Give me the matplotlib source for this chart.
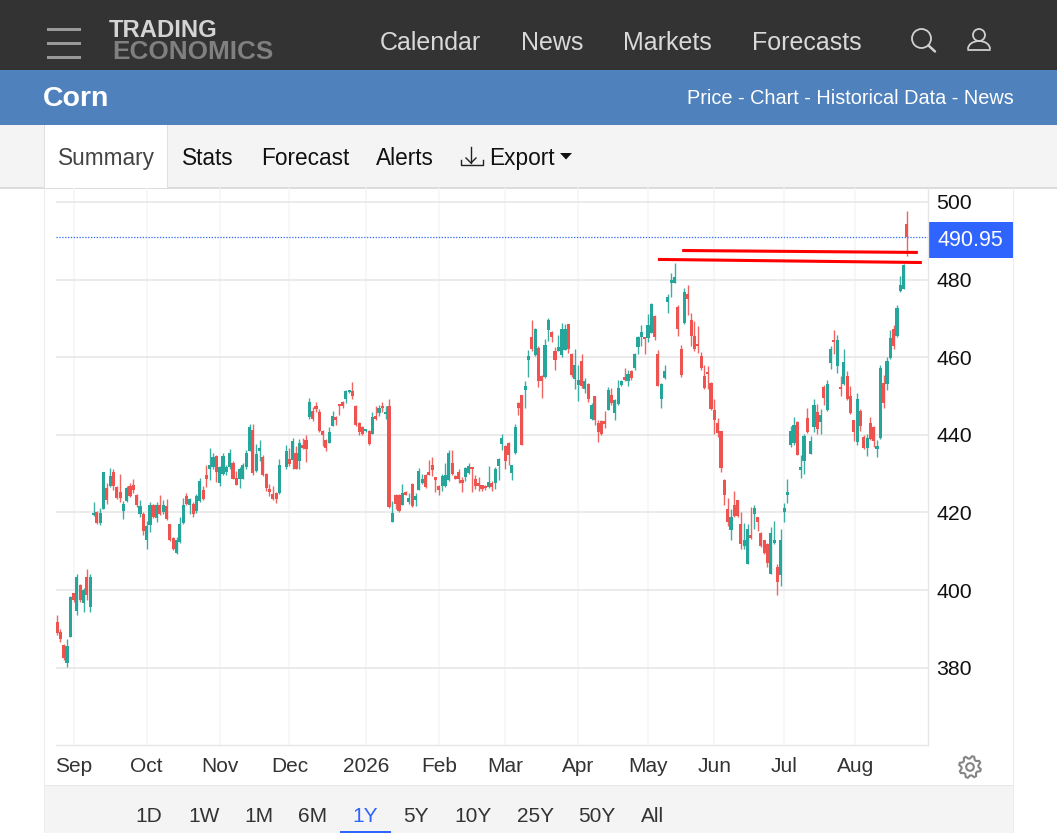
import numpy as np
import matplotlib
matplotlib.use("Agg")
import matplotlib.pyplot as plt
from matplotlib.patches import Rectangle, Circle, Polygon, Arc

plt.rcParams['font.family'] = ['Liberation Sans', 'DejaVu Sans']

nan = float('nan')

# Daily candles, one row = ten sessions
opens = [
    391.7, 389.1, 385.7, 381.3, 388, 399.2, 394.5, 401.4, 396.6, 403.3,
    395.5, 419.3, 420.2, 417.3, 421, 426.4, 426.8, 430.3, 426.6, 425.3,
    420.3, 422.9, 426.8, 427.1, 424.5, 419.7, 419.5, 412.8, 416.7, 421.9,
    418.6, 421.9, 420.2, 421.6, 417, 413.4, 409.6, 412.3, 417.2, 424.2,
    421.9, 422.1, 420.3, 422.9, 425.7, 429.6, 431.1, 431.6, 434.6, 427.7,
    429.8, 430.3, 431.6, 432.8, 428.8, 428.7, 428.7, 431.6, 435.9, 441.2,
    430.7, 435.9, 434.4, 429.8, 426, 424.7, 425.1, 424.9, nan, 431.8,
    433.7, 433.5, 435.4, 433.3, 437.3, 438.7, 444.5, 446.2, 447.3, 445.8,
    440.9, 438.6, 438, 442.3, 444.5, 447.5, 448.5, 449.2, 451, 451.2,
    447.5, 443, 441.9, 440.9, 441, 440.2, 444.9, 445.6, 447.1, 445.3,
    447.3, 417.6, 424.5, 424.5, 421.9, 425.3, 422.7, 427.2, 423.2, 425.9,
    427.5, 429.6, 430.3, 432.1, 429.2, 426.8, 426.8, 426.8, 428.4, 432.8,
    429.4, 430.3, 428.3, 429, 430.1, 431.4, 428.7, 427.7, 427, 426.8,
    426.6, 427.5, 427.7, 432, 437.6, 437.2, 438, 430.1, 435.2, 448.2,
    450.2, 451.6, 459.3, 465.3, 460.6, 462.3, 455.2, 454.8, 467, 466.4,
    461.5, 461.6, 460.5, 461.9, 468.5, 460.9, 454.4, 452.9, 458.9, 451.9,
    453.2, 444.2, 449.9, 443.1, 443.5, 443.1, 446.5, 450.3, 445.5, 448,
    452.9, 455, 453.8, 456.5, 457.2, 462.6, 465.1, 464.8, 465, 466.3,
    470.6, 460.9, 449.1, 454.7, 474.1, 479.1, 479.1, 473, 462.1, 468.7,
    476.2, 469.7, 465.5, 463.2, 460.3, 455.1, 456, 453.4, 446.5, 443.1,
    441.1, 428.3, 420.9, 415.4, 422, 423.1, 417.1, 411.3, 406.8, 414.1,
    419.7, 418.8, 414.8, 413, 411.8, 404.2, 412, 405.9, 403.9, 420.1,
    424.5, 437.5, 437.8, 443.3, 430.8, 433.2, 444.3, 435.1, 441.9, 446,
    443.3, 452.2, 446.5, 458.4, 464.1, 457.7, 451.8, 453, 455.1, 450.1,
    443.7, 438.2, 446.1, 439.5, 436.5, 443.1, 442, 436.4, 439.2, 453.4,
    453, 459.8, 467.3, 465.4, 477.1, 477.6, 494.3,
]
closes = [
    388.9, 387.3, 382.4, 385.6, 398.2, 397.3, 403.4, 397.5, 400.1, 398.8,
    403.4, 419.9, 417.2, 419.9, 430.3, 423.2, 429.4, 426.8, 423.6, 423.8,
    422.1, 426.4, 424.2, 425.7, 421.8, 421.6, 415.2, 416.5, 421.9, 418.9,
    421.9, 419.7, 421.9, 418.2, 412.8, 410.6, 413, 417, 421.9, 422.1,
    423.4, 419.7, 424.2, 428.1, 423.4, 428.7, 432.2, 434.3, 430.3, 431.8,
    434.6, 431.8, 435.4, 428.7, 427.1, 431.3, 432.2, 435.4, 441.9, 430.1,
    435, 436.7, 429.6, 426.4, 425.3, 423.5, 423.5, 432.2, nan, 435.8,
    432.4, 438.3, 431.3, 437.8, 436.5, 436.3, 448.5, 444.1, 446.6, 440.9,
    439.9, 436.6, 440.8, 444.9, 443.8, 447.3, 447.3, 451.4, 451.1, 450.1,
    442.5, 440.6, 440.2, 441.5, 437.6, 444.7, 444.1, 446.9, 446.8, 445.9,
    421.5, 419.9, 422.1, 420.3, 424.9, 424.6, 423.8, 421.6, 424.2, 430.7,
    428.5, 426.6, 429.7, 430.9, 428.4, 425.8, 429.4, 429.6, 435.4, 429.8,
    428.7, 428.5, 427.7, 431.4, 432, 431.2, 426.8, 426.8, 426, 426.3,
    427.9, 426.5, 431.2, 433.7, 439.1, 433.3, 434.8, 432.2, 441.9, 446.9,
    437.5, 452.6, 460.3, 462.1, 467.3, 453.8, 453.8, 463.2, 469.7, 465.1,
    459.3, 462.6, 467.2, 467.2, 462.1, 455.5, 457.9, 454.2, 452.5, 453.8,
    449.1, 447.8, 443.9, 440.7, 440.1, 442.9, 451.5, 448.2, 448.9, 452,
    453.9, 454, 455.6, 454.6, 460.8, 465.3, 466.4, 464.6, 468.3, 473.7,
    465.1, 452.6, 453, 456.5, 475.4, 480, 480.7, 467.3, 455.3, 476.8,
    475.1, 465.5, 462.1, 462.9, 457.3, 452.1, 455.7, 446.7, 443.9, 440.5,
    431.5, 424.4, 417.5, 418.9, 419.1, 419.1, 411.8, 413, 415.6, 413.5,
    421.2, 417.6, 411.3, 409.6, 407, 414.8, 413, 402, 413, 421.2,
    425.3, 441.1, 442.4, 434.8, 431.7, 439.8, 440.7, 438.5, 447.6, 441.4,
    445, 449.4, 453, 462.2, 463.9, 464.5, 451.7, 458.7, 449.3, 445.5,
    440.8, 449.3, 442.2, 436.6, 439.2, 439, 438.4, 436.7, 457.3, 448.1,
    459.1, 465, 463, 472.8, 478.5, 483.7, 490.95,
]
highs = [
    393.6, 389.9, 386, 387.3, 398.4, 399.3, 404, 401.6, 400.5, 405.4,
    404, 422.8, 420.4, 421.2, 430.3, 427.7, 431.4, 431.3, 426.8, 430,
    422.9, 426.8, 427.5, 428.5, 424.7, 423.1, 420.2, 417.8, 422.8, 422.1,
    422.8, 424.5, 423.2, 423.5, 417.1, 413.7, 413.7, 418.9, 423.8, 425.1,
    423.8, 422.8, 424.7, 428.8, 426.8, 432.2, 436.5, 435.4, 434.7, 432,
    435.4, 432.2, 436.3, 433.3, 430.7, 431.6, 432.8, 436.1, 442.9, 442.9,
    437.6, 438.6, 434.7, 430.1, 427.2, 426.8, 425.3, 433.7, nan, 437.3,
    436.7, 439.3, 437.2, 438.9, 439.3, 440, 449.5, 447.1, 448.4, 446.6,
    441.3, 438.9, 441.9, 446.2, 444.9, 447.7, 448.7, 451.6, 451.2, 453.5,
    447.7, 443.2, 442.3, 441.6, 441.2, 445.8, 447.3, 447.7, 448.4, 447.5,
    449.2, 422.9, 424.7, 424.7, 427.4, 425.5, 425.1, 427.5, 424.9, 431.4,
    429.8, 430, 433.5, 434.3, 429.2, 427, 429.8, 432.8, 436.1, 436.1,
    429.6, 431.1, 429, 431.6, 432.8, 431.4, 429.6, 429, 427, 427,
    432, 428, 431.6, 433.9, 440.2, 437.3, 438.2, 432.2, 442.7, 448.4,
    450.3, 453.9, 461.9, 469.7, 467.4, 462.9, 455.5, 464.6, 470, 466.8,
    462.7, 465.7, 468.7, 468.5, 468.6, 461, 462.1, 458, 460.8, 454.6,
    453.3, 448.2, 450.1, 443.9, 443.7, 446.1, 452.3, 452.1, 449.1, 454,
    454, 457.2, 456.8, 456.8, 461, 465.5, 468.3, 465.1, 471.1, 474,
    470.9, 461.9, 453.3, 457.9, 476.4, 481.8, 484.4, 473.4, 463.2, 477.9,
    478.7, 471.3, 469.4, 468, 461.3, 457.9, 457.7, 453.5, 449.3, 444.4,
    441.1, 428.5, 423.8, 420.9, 425.5, 423.3, 420.1, 417.3, 416.9, 421.4,
    422, 418.9, 414.9, 413, 412, 416.3, 417.8, 406.6, 415.6, 422.5,
    428.5, 442.2, 444.6, 443.5, 434.9, 440.1, 446.8, 439.7, 449.3, 448,
    446.7, 452.8, 454.1, 463, 467.1, 465.6, 455.1, 462.2, 456.4, 452.5,
    443.9, 450.8, 446.7, 439.9, 440.3, 444.6, 442.2, 438.6, 457.9, 455.5,
    460, 467.1, 468.2, 473.4, 481, 483.9, 497.8,
]
lows = [
    388.4, 386.7, 382, 380.1, 387.9, 397, 393.6, 396.8, 394.3, 397.5,
    394.3, 419.2, 416.9, 416.7, 420.9, 422.1, 426.6, 425.8, 423.4, 422.8,
    418.4, 422.8, 424, 425.1, 421.5, 418.9, 414.1, 410.6, 414.9, 418.6,
    417.5, 419.3, 419.7, 418, 412.6, 410.4, 409.4, 412.2, 417, 421.8,
    419.5, 418.9, 419.9, 422.8, 423.2, 426.6, 428.4, 431.1, 427.8, 426.8,
    429.7, 429.7, 431.1, 428.5, 427, 426.4, 428.5, 431.3, 435.7, 429.7,
    430.5, 433.3, 429.4, 425.5, 424.2, 423.2, 422.5, 424.7, nan, 431.1,
    432, 431.1, 431.1, 431.1, 436.3, 433, 444.1, 443.6, 445.8, 440.6,
    437, 435.9, 437.8, 442.2, 442.5, 445.1, 446.8, 448.2, 450.9, 449.2,
    442.3, 440, 439.9, 440.8, 437.3, 440.1, 443.9, 444.9, 445.8, 444.2,
    421.2, 417.5, 420.9, 420.2, 421.8, 424.5, 422.2, 421.5, 421.6, 425.8,
    427.2, 426.4, 429.6, 429.4, 425.3, 424.4, 425.5, 426.6, 428.2, 429.6,
    428.5, 427.7, 425.3, 428.1, 429.8, 425.3, 426, 425.5, 425.5, 425.8,
    426.4, 425.6, 426, 428.4, 436.1, 431.2, 432.3, 428.3, 435, 445,
    437.4, 446.9, 455, 461.7, 460.2, 452.3, 449.5, 454.7, 464.2, 464,
    456.6, 461.5, 460, 461.8, 461, 455, 451.8, 448.6, 452.1, 450.8,
    448.4, 443.9, 442.5, 438.2, 439.9, 441.8, 446.3, 447.6, 443.7, 447.8,
    452.6, 453.8, 452.6, 454, 456.6, 460.9, 462.9, 460.9, 463.8, 466.2,
    464.4, 452.5, 446.9, 454.4, 471.5, 475.4, 479, 465.5, 455, 468.5,
    470.9, 462.9, 461.7, 461, 456.8, 451.9, 451.9, 446.5, 440.1, 439.5,
    430.4, 421.8, 416.5, 413, 418.9, 418.9, 410.5, 410.6, 406.6, 413.2,
    415.6, 415.2, 411.2, 409.4, 406, 404, 411.8, 398.7, 401, 417.5,
    422.5, 436.8, 437.5, 434.7, 428.9, 430, 440.5, 435, 440.7, 440.3,
    440.1, 447.6, 446.1, 457, 460.9, 455.8, 450.1, 452.8, 448.9, 445.4,
    438.4, 437.5, 441.1, 436.4, 434.5, 438.6, 436.8, 434.2, 439, 447,
    451.5, 459.6, 462.1, 465.2, 476.7, 477.5, 486,
]
last_price = 490.95

y_ticks = [380, 400, 420, 440, 460, 480, 500]
month_pos = [5, 27, 49, 70, 93, 115, 135, 157, 178, 198, 219, 240.4]
month_labels = ['Sep', 'Oct', 'Nov', 'Dec', '2026', 'Feb', 'Mar', 'Apr', 'May', 'Jun', 'Jul', 'Aug']

# hand drawn resistance lines: session, price
line_a_x = [188.3, 259.3]
line_a_y = [487.5, 487.0]
line_b_x = [181.0, 260.5]
line_b_y = [485.2, 484.4]

nav_items = [('Calendar', 380), ('News', 521), ('Markets', 623), ('Forecasts', 752)]
tab_items = [('Stats', 182), ('Forecast', 261), ('Alerts', 376), ('Export', 489)]
ranges = [('1D', 149), ('1W', 204), ('1M', 259), ('6M', 313), ('1Y', 365),
          ('5Y', 416), ('10Y', 473), ('25Y', 535), ('50Y', 597), ('All', 653)]

W, H = 1057, 833
fig = plt.figure(figsize=(W / 100, H / 100), dpi=100, facecolor='white')

# page furniture, drawn in pixels
page = fig.add_axes([0, 0, 1, 1], zorder=0)
page.set_xlim(0, W)
page.set_ylim(H, 0)
page.axis('off')


def box(x0, y0, x1, y1, color, **kw):
    page.add_patch(Rectangle((x0, y0), x1 - x0, y1 - y0, facecolor=color, edgecolor='none', **kw))


box(0, 0, W, 70, '#333333')
box(0, 70, W, 125, '#4f81bd')
box(0, 125, W, 187, '#f4f4f4')
box(0, 187, W, 188.5, '#dcdcdc')
box(44, 125, 167.5, 188, 'white')
box(43.5, 125, 44.5, 188, '#e0e0e0')
box(167, 125, 168, 188, '#e0e0e0')
box(44, 786, 1013, H, '#f4f4f4')
box(43.5, 188, 44.5, H, '#ececec')
box(1012.5, 188, 1013.5, H, '#ececec')
box(44, 785, 1013, 786, '#e8e8e8')

# hamburger and logo
for yy in (29, 43, 57):
    box(47, yy - 1.5, 81, yy + 1.5, '#999999')
page.text(109, 37, 'TRADING', fontsize=17.2, fontweight='bold', color='#d4d4d4', va='baseline', ha='left')
page.text(112.5, 59, 'ECONOMICS', fontsize=18.8, fontweight='bold', color='#808080', va='baseline', ha='left')

for name, xx in nav_items:
    page.text(xx, 43, name, fontsize=18, color='#d9d9d9', va='center', ha='left')

# search and user icons
page.add_patch(Circle((921.5, 38.5), 9.5, fill=False, edgecolor='#d0d0d0', lw=1.3))
page.plot([928.5, 935], [45.5, 51.5], color='#d0d0d0', lw=1.8, solid_capstyle='round')
page.add_patch(Circle((979, 35), 6, fill=False, edgecolor='#d0d0d0', lw=1.3))
page.add_patch(Arc((979, 49), 22, 16, theta1=180, theta2=360, edgecolor='#d0d0d0', lw=1.3))
page.plot([968, 990], [50, 50], color='#d0d0d0', lw=1.3, solid_capstyle='round')

page.text(43, 99, 'Corn', fontsize=20.5, fontweight='bold', color='white', va='center', ha='left')
page.text(1014, 98.5, 'Price - Chart - Historical Data - News', fontsize=14.3, color='white', va='center', ha='right')

page.text(58, 158, 'Summary', fontsize=16.3, color='#444444', va='center', ha='left')
for name, xx in tab_items:
    page.text(xx, 158, name, fontsize=16.3, color='#111111', va='center', ha='left')

# export arrow and caret
page.plot([471, 471], [147, 163], color='#222222', lw=1.0)
page.plot([466, 471, 476], [158, 163, 158], color='#222222', lw=1.0)
page.plot([461, 461, 483, 483], [160, 165, 165, 160], color='#222222', lw=1.0)
page.add_patch(Polygon([[560, 153], [572, 153], [566, 159.5]], closed=True, facecolor='#111111', edgecolor='none'))

# price tag
box(928, 222, 1013, 258, '#2f64ff')
page.text(970.5, 240.5, f'{last_price:.2f}', fontsize=15.5, color='white', va='center', ha='center')

# settings gear
angles = np.linspace(0, 2 * np.pi, 8 * 4, endpoint=False) + np.pi / 16
radii = np.tile([11, 11, 8.5, 8.5], 8)
page.add_patch(Polygon(np.c_[970 + radii * np.cos(angles), 767 + radii * np.sin(angles)], closed=True,
                       fill=False, edgecolor='#858585', lw=1.5))
page.add_patch(Circle((970, 767), 3.8, fill=False, edgecolor='#858585', lw=1.5))

for name, xx in ranges:
    col = '#2f64ff' if name == '1Y' else '#333333'
    page.text(xx, 816.5, name, fontsize=15, color=col, va='center', ha='center')
box(340, 830.5, 391, 833, '#2f64ff')

# the chart itself
ax_l, ax_r, ax_t, ax_b = 56, 928, 188, 745
ax = fig.add_axes([ax_l / W, 1 - ax_b / H, (ax_r - ax_l) / W, (ax_b - ax_t) / H], zorder=1)
ax.patch.set_alpha(0)
ax.set_xlim((ax_l - 57) / 3.32, (ax_r - 57) / 3.32)
ax.set_ylim(500 - (ax_b - 202) / 3.88, 500 - (ax_t - 202) / 3.88)

ax.set_axisbelow(True)
ax.yaxis.tick_right()
ax.set_yticks(y_ticks)
ax.set_xticks(month_pos)
ax.set_xticklabels(month_labels)
ax.tick_params(axis='y', length=0, pad=6, labelsize=15.3, labelcolor='#111111')
ax.tick_params(axis='x', length=0, pad=9, labelsize=15, labelcolor='#333333')
ax.grid(axis='y', color='#e6e6e6', lw=1.1)
ax.grid(axis='x', color='#f2f5f8', lw=1.1)
for side in ('top', 'left'):
    ax.spines[side].set_visible(False)
for side in ('bottom', 'right'):
    ax.spines[side].set_color('#e6e6e6')
    ax.spines[side].set_linewidth(1.0)

o = np.array(opens)
c = np.array(closes)
h = np.array(highs)
l = np.array(lows)
x = np.arange(len(o))
colors = np.where(c >= o, '#26a69a', '#ef5350')

ax.vlines(x, l, h, colors=colors, lw=1.0, alpha=0.9, zorder=3)
body_h = np.maximum(np.abs(c - o), 0.6)
ax.bar(x, body_h, bottom=np.minimum(o, c), width=0.95, color=colors, linewidth=0, zorder=4)

ax.axhline(last_price, color='#2f64ff', lw=0.9, ls=(0, (1, 1.3)), zorder=2)
ax.plot(line_a_x, line_a_y, color='#ff0000', lw=2.2, zorder=5, clip_on=False, solid_capstyle='butt')
ax.plot(line_b_x, line_b_y, color='#ff0000', lw=2.2, zorder=5, clip_on=False, solid_capstyle='butt')

fig.savefig('out.png', dpi=100)
